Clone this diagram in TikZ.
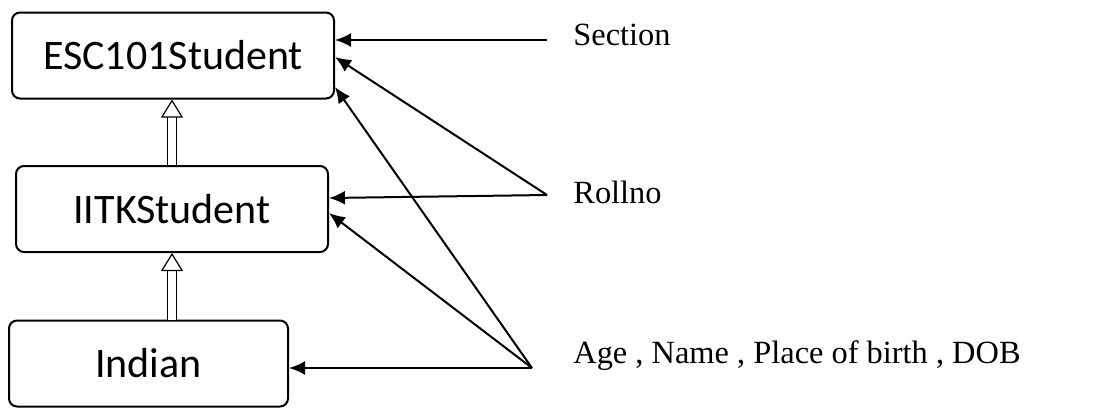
\documentclass[tikz,border=0pt]{standalone}
\usepackage{fontspec}
\setmainfont{Liberation Serif}
\newfontfamily\boxfont{Carlito}
\usepackage{tikz}
\usetikzlibrary{arrows.meta,positioning}

\begin{document}
\begin{tikzpicture}[x=0.5pt, y=-0.5pt,
  cls/.style={rectangle,draw=black,line width=1pt,rounded corners=4pt,font=\boxfont\fontsize{21}{25}\selectfont,minimum height=43pt},
  attr/.style={anchor=base west,inner sep=0pt,font=\fontsize{16.2}{19}\selectfont},
  line/.style={draw=black,line width=1pt,-{Latex[length=8pt,width=7pt]}},
  inherit/.style={draw=black,line width=0.6pt,double,double distance=3.8pt,-{Triangle[open,length=9pt,width=11pt]}}]
  \useasboundingbox (0,0) rectangle (1100,409);

  \node[cls,minimum width=161pt] (esc) at (173,55.5) {ESC101Student};
  \node[cls,minimum width=156pt] (iitk) at (172,209) {IITKStudent};
  \node[cls,minimum width=139.5pt] (indian) at (148.5,363.5) {Indian};

  \coordinate (sec) at (547,40);
  \coordinate (roll) at (547,195);
  \coordinate (age) at (532,368);
  \node[attr] (seclbl) at (573,45) {Section};
  \node[attr] (rolllbl) at (573,203) {Rollno};
  \node[attr] (agelbl) at (573,363) {Age , Name , Place of birth , DOB};

  \draw[inherit] (indian.north -| iitk.south) -- (iitk.south);
  \draw[inherit] (iitk.north) -- (iitk.north |- esc.south);

  \draw[line] (sec) -- (esc.east |- sec);
  \draw[line] (roll) -- ([yshift=-0.75pt]esc.east);
  \draw[line] (roll) -- ([yshift=5.5pt]iitk.east);
  \draw[line] (age) -- ([yshift=-15.75pt]esc.east);
  \draw[line] (age) -- ([yshift=-2pt]iitk.east);
  \draw[line] (age) -- (indian.east |- age);
\end{tikzpicture}
\end{document}
